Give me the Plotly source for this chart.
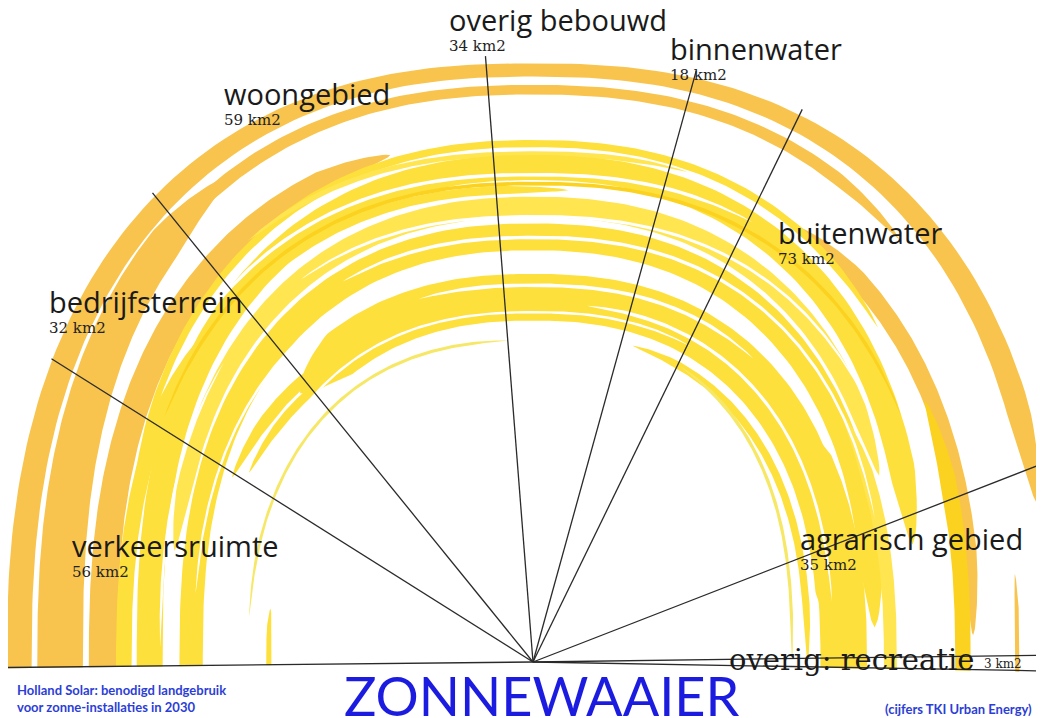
import numpy as np
import plotly.graph_objects as go

# land use needed for solar installations in 2030 (km2), left to right around the fan
CATEGORIES = ["verkeersruimte", "bedrijfsterrein", "woongebied", "overig bebouwd",
              "binnenwater", "buitenwater", "agrarisch gebied", "overig: recreatie"]
AREA_KM2 = [56, 32, 59, 34, 18, 73, 35, 3]

TITLE = "ZONNEWAAIER"
NOTE_LEFT = "Holland Solar: benodigd landgebruik<br>voor zonne-installaties in 2030"
NOTE_RIGHT = "(cijfers TKI Urban Energy)"

# fan geometry, pixels with the hinge at (0, 0)
FAN_START, FAN_END = 180.6, -1.0
RX, RY, SQUARE = 518, 598, 2.4
HINGE = (533, 662)
PAGE_PAD = 8  # the page body keeps its default 8px margin

# where the names sit (image pixels: left x, centre y)
LABEL_POS = [(70, 545), (47, 301), (222, 93), (447, 19), (668, 48),
             (776, 232), (798, 538), (727, 660)]

OR = "#F8C44E"
YE = "#FEE03C"
YL = "#FFE651"
YP = "#F6E866"
YG = "#FBD21F"
WH = "#FFFFFF"

# brush strokes: start deg, end deg, r at sides, r at top, width at sides, width at top, colour
STROKES = [
    (15, 182, 0.992, 0.99, 0.048, 0.022, OR),
    (45, 150, 0.93, 0.957, 0.03, 0.016, OR),
    (126, 182, 0.913, 0.97, 0.088, 0.03, OR),
    (108, 182, 0.83, 0.875, 0.055, 0.03, OR),
    (3, 55, 0.85, 0.84, 0.032, 0.03, OR),
    (-2, 9, 0.935, 0.935, 0.008, 0.008, OR),
    (40, 160, 0.79, 0.867, 0.012, 0.012, YE),
    (70, 128, 0.84, 0.85, 0.01, 0.008, YL),
    (15, 182, 0.74, 0.827, 0.05, 0.042, YE),
    (25, 165, 0.70, 0.761, 0.03, 0.034, YL),
    (85, 155, 0.77, 0.79, 0.02, 0.014, YE),
    (5, 182, 0.66, 0.711, 0.045, 0.045, YE),
    (140, 182, 0.79, 0.80, 0.03, 0.02, YE),
    (3, 135, 0.59, 0.61, 0.08, 0.078, YE),
    (0, 70, 0.53, 0.55, 0.014, 0.012, YE),
    (95, 172, 0.55, 0.538, 0.005, 0.005, YP),
    (170, 182, 0.51, 0.51, 0.01, 0.01, YE),
    (125, 152, 0.645, 0.58, 0.02, 0.02, YE),
    (120, 150, 0.62, 0.56, 0.015, 0.015, YE),
    (-2, 40, 0.60, 0.60, 0.09, 0.06, YE),
    (-2, 35, 0.69, 0.69, 0.025, 0.02, YL),
    (-2, 30, 0.83, 0.85, 0.03, 0.03, YG),
    (0, 60, 0.5, 0.56, 0.006, 0.006, YP),
    (30, 150, 0.78, 0.80, 0.006, 0.006, YG),
    (60, 140, 0.80, 0.815, 0.005, 0.006, WH),
    (20, 120, 0.68, 0.71, 0.004, 0.006, WH),
    (140, 178, 0.72, 0.76, 0.005, 0.005, WH),
    (50, 110, 0.62, 0.63, 0.005, 0.006, WH),
    (35, 125, 0.735, 0.745, 0.004, 0.005, WH),
    (100, 170, 0.655, 0.67, 0.004, 0.005, WH),
    (10, 80, 0.58, 0.6, 0.005, 0.006, WH),
    (60, 150, 0.575, 0.585, 0.004, 0.004, WH),
    (150, 182, 0.62, 0.62, 0.004, 0.004, WH),
]


def fan_xy(theta, r):
    t = np.radians(theta)
    c, s = np.cos(t), np.sin(t)
    k = (np.abs(c) ** SQUARE + np.abs(s) ** SQUARE) ** (1 / SQUARE)
    return r * RX * c / k, r * RY * s / k


def stroke_shape(a0, a1, r_side, r_top, w_side, w_top):
    # strokes that run into the base line are cut flat there, the others taper
    flat0, flat1 = a0 <= FAN_END, a1 >= FAN_START
    a0, a1 = max(a0, FAN_END), min(a1, FAN_START)
    th = np.linspace(a0, a1, 160)
    s2 = np.sin(np.radians(th)) ** 2
    r = r_side + (r_top - r_side) * s2
    w = w_side + (w_top - w_side) * s2
    tip = min(9.0, abs(a1 - a0) * 0.35)
    d0 = np.full_like(th, 99.0) if flat0 else np.abs(th - a0)
    d1 = np.full_like(th, 99.0) if flat1 else np.abs(a1 - th)
    w = w * np.clip(np.minimum(d0, d1) / tip, 0, 1) ** 0.6
    xo, yo = fan_xy(th, r + w / 2)
    xi, yi = fan_xy(th[::-1], (r - w / 2)[::-1])
    return np.concatenate([xo, xi, xo[:1]]), np.concatenate([yo, yi, yo[:1]])


def edge_length(phi, r=0.985):
    c, s = abs(np.cos(np.radians(phi))), abs(np.sin(np.radians(phi)))
    return r / ((c / RX) ** SQUARE + (s / RY) ** SQUARE) ** (1 / SQUARE)


fig = go.Figure()

for a0, a1, rs, rt, ws, wt, col in STROKES:
    xs, ys = stroke_shape(a0, a1, rs, rt, ws, wt)
    fig.add_trace(go.Scatter(x=xs, y=ys, mode="lines", fill="toself", fillcolor=col,
                             line=dict(width=0), hoverinfo="skip"))

# sector boundaries: each sector's angle is proportional to its area
total = sum(AREA_KM2)
cum = np.concatenate([[0], np.cumsum(AREA_KM2)])
bounds = FAN_START - (FAN_START - FAN_END) * cum / total
sx, sy = [], []
for i, phi in enumerate(bounds):
    reach = 1.1 if i == 0 else (0.99 if i >= len(bounds) - 2 else 1.03)
    L = edge_length(phi) * reach
    sx += [0, L * np.cos(np.radians(phi)), None]
    sy += [0, L * np.sin(np.radians(phi)), None]
fig.add_trace(go.Scatter(x=sx, y=sy, mode="lines", line=dict(color="#2a2a2a", width=1.3),
                         hoverinfo="skip"))

ann = []
for i, (name, km) in enumerate(zip(CATEGORIES, AREA_KM2)):
    px, py = LABEL_POS[i]
    x, y = px - HINGE[0], HINGE[1] - py
    if i == len(CATEGORIES) - 1:
        ann.append(dict(x=x, y=y, text=name, xanchor="left", yanchor="middle", showarrow=False,
                        font=dict(family="DejaVu Serif", size=29, color="#1a1a1a")))
        ann.append(dict(x=x + 255, y=y - 4, text=f"{km} km2", xanchor="left", yanchor="middle",
                        showarrow=False, font=dict(family="DejaVu Serif", size=12, color="#222")))
    else:
        ann.append(dict(x=x, y=y, text=name, xanchor="left", yanchor="middle", showarrow=False,
                        font=dict(family="Open Sans", size=29, color="#1a1a1a")))
        ann.append(dict(x=x, y=y - 27, text=f"{km} km2", xanchor="left", yanchor="middle",
                        showarrow=False, font=dict(family="DejaVu Serif", size=15, color="#222")))

ann.append(dict(x=542 - HINGE[0], y=HINGE[1] - 695, text=TITLE, xanchor="center", yanchor="middle",
                showarrow=False, font=dict(family="Lato", size=54, color="#1c1ce0")))
ann.append(dict(x=15 - HINGE[0], y=HINGE[1] - 698, text=NOTE_LEFT, xanchor="left", yanchor="middle",
                align="left", showarrow=False,
                font=dict(family="Lato", size=13, color="#2c3ed6", weight="bold")))
ann.append(dict(x=1034 - HINGE[0], y=HINGE[1] - 709, text=NOTE_RIGHT, xanchor="right", yanchor="middle",
                showarrow=False, font=dict(family="Lato", size=13, color="#2c3ed6", weight="bold")))

fig.update_layout(
    width=1044 - PAGE_PAD, height=718 - PAGE_PAD,
    margin=dict(l=0, r=0, t=0, b=0),
    paper_bgcolor="white", plot_bgcolor="white",
    showlegend=False,
    xaxis=dict(range=[PAGE_PAD - HINGE[0], 1044 - HINGE[0]], visible=False, fixedrange=True),
    yaxis=dict(range=[HINGE[1] - 718, HINGE[1] - PAGE_PAD], visible=False, fixedrange=True),
    annotations=ann,
)

fig.write_html("out.html")
